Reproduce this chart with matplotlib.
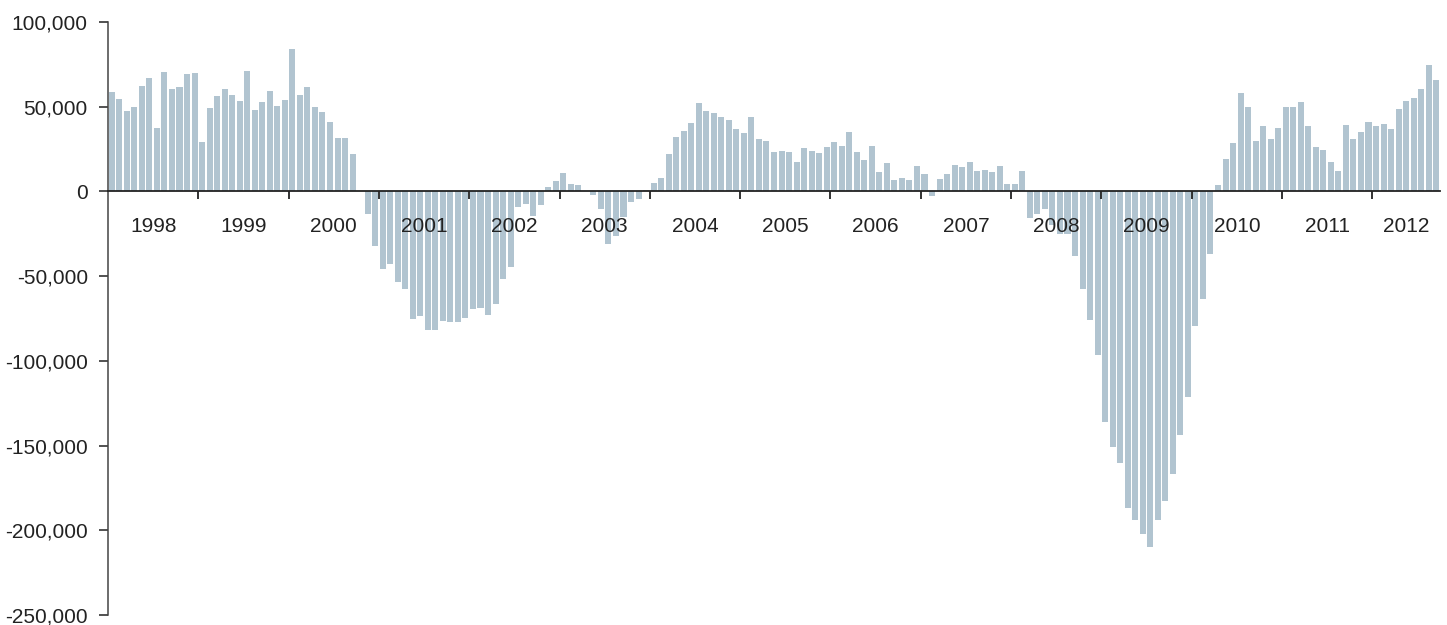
import numpy as np
import matplotlib
matplotlib.use('Agg')
import matplotlib.pyplot as plt
from matplotlib.ticker import FuncFormatter

# monthly values, in thousands, Jan 1998 - Sep 2012
v1998 = [58.8, 54.8, 47.5, 49.7, 62.1, 66.7, 37.7, 70.2, 60.4, 61.9, 69.4, 69.8]
v1999 = [29.0, 49.1, 56.4, 60.2, 56.8, 53.1, 70.8, 48.1, 52.7, 59.0, 50.7, 54.2]
v2000 = [84.0, 56.8, 61.7, 50.1, 46.9, 41.2, 31.4, 31.4, 22.1, 0.0, -13.6, -32.3]
v2001 = [-46.0, -43.0, -53.3, -57.6, -75.5, -73.6, -81.7, -81.7, -76.3, -77.1, -77.1, -74.6]
v2002 = [-69.4, -69.0, -73.2, -66.7, -51.5, -44.8, -8.9, -7.7, -14.4, -8.1, 2.5, 5.9]
v2003 = [11.0, 4.5, 3.7, 0.4, -2.2, -10.5, -31.0, -26.4, -15.2, -6.5, -4.3, 0.8]
v2004 = [5.1, 8.1, 22.3, 32.1, 35.9, 40.6, 52.1, 47.5, 46.5, 43.8, 42.0, 36.7]
v2005 = [34.5, 44.2, 31.2, 29.8, 23.1, 24.1, 23.1, 17.6, 25.6, 23.9, 22.9, 26.0]
v2006 = [29.4, 26.6, 35.1, 23.3, 18.3, 26.6, 11.2, 16.6, 6.8, 7.7, 6.5, 15.0]
v2007 = [10.1, -2.8, 7.3, 10.5, 15.8, 14.2, 17.2, 11.8, 12.8, 11.6, 15.2, 4.3]
v2008 = [4.3, 11.8, -15.4, -13.6, -10.4, -20.0, -25.0, -25.0, -38.3, -57.6, -75.9, -96.4]
v2009 = [-135.9, -150.9, -160.2, -186.8, -194.1, -202.4, -210.1, -194.1, -182.6, -166.9, -143.8, -121.1]
v2010 = [-79.7, -63.5, -37.0, 3.6, 19.1, 28.4, 58.0, 49.7, 29.6, 38.5, 30.8, 37.3]
v2011 = [49.7, 50.1, 52.9, 38.9, 26.0, 24.5, 17.2, 11.8, 39.1, 30.8, 35.1, 41.2]
v2012 = [38.5, 39.6, 37.1, 48.5, 53.3, 55.2, 60.4, 74.9, 65.5]

years = ['1998', '1999', '2000', '2001', '2002', '2003', '2004', '2005',
         '2006', '2007', '2008', '2009', '2010', '2011', '2012']
y_ticks = [100000, 50000, 0, -50000, -100000, -150000, -200000, -250000]


def main():
    by_year = [v1998, v1999, v2000, v2001, v2002, v2003, v2004, v2005,
               v2006, v2007, v2008, v2009, v2010, v2011, v2012]
    values = np.concatenate(by_year) * 1000
    n = len(values)
    x = np.arange(n) + 0.5

    # year label sits in the middle of the months that year has
    starts = np.cumsum([0] + [len(v) for v in by_year[:-1]])
    mids = starts + np.array([len(v) for v in by_year]) / 2

    plt.rcParams['font.family'] = ['Liberation Sans', 'DejaVu Sans']
    fig = plt.figure(figsize=(14.47, 6.25), dpi=100)
    ax = fig.add_axes([108 / 1447, 1 - 615 / 625, (1440 - 108) / 1447, (615 - 22) / 625])

    ax.bar(x, values, width=0.8, color='#b1c4d0', edgecolor='none')

    ax.set_xlim(0, n)
    ax.set_ylim(-250000, 100000)

    # spines
    for s in ['top', 'right']:
        ax.spines[s].set_visible(False)
    ax.spines['bottom'].set_position(('data', 0))
    ax.spines['bottom'].set_color('#222222')
    ax.spines['left'].set_color('#444444')
    ax.spines['bottom'].set_linewidth(1.3)
    ax.spines['left'].set_linewidth(1.1)

    # y axis
    ax.set_yticks(y_ticks)
    ax.yaxis.set_major_formatter(FuncFormatter(lambda v, p: '{:,.0f}'.format(v)))
    ax.tick_params(axis='y', direction='out', length=6.5, width=1.1, pad=8,
                   labelsize=15, colors='#222222')

    # x axis: year boundaries as ticks, year names in the middle
    ax.set_xticks(starts[1:])
    ax.set_xticklabels([])
    ax.set_xticks(mids, minor=True)
    ax.set_xticklabels(years, minor=True)
    ax.tick_params(axis='x', which='major', direction='out', length=6, width=1.3,
                   color='#222222')
    ax.tick_params(axis='x', which='minor', length=0, pad=18.5, labelsize=15,
                   labelcolor='#222222')

    fig.savefig('out.png', dpi=100)


if __name__ == '__main__':
    main()
